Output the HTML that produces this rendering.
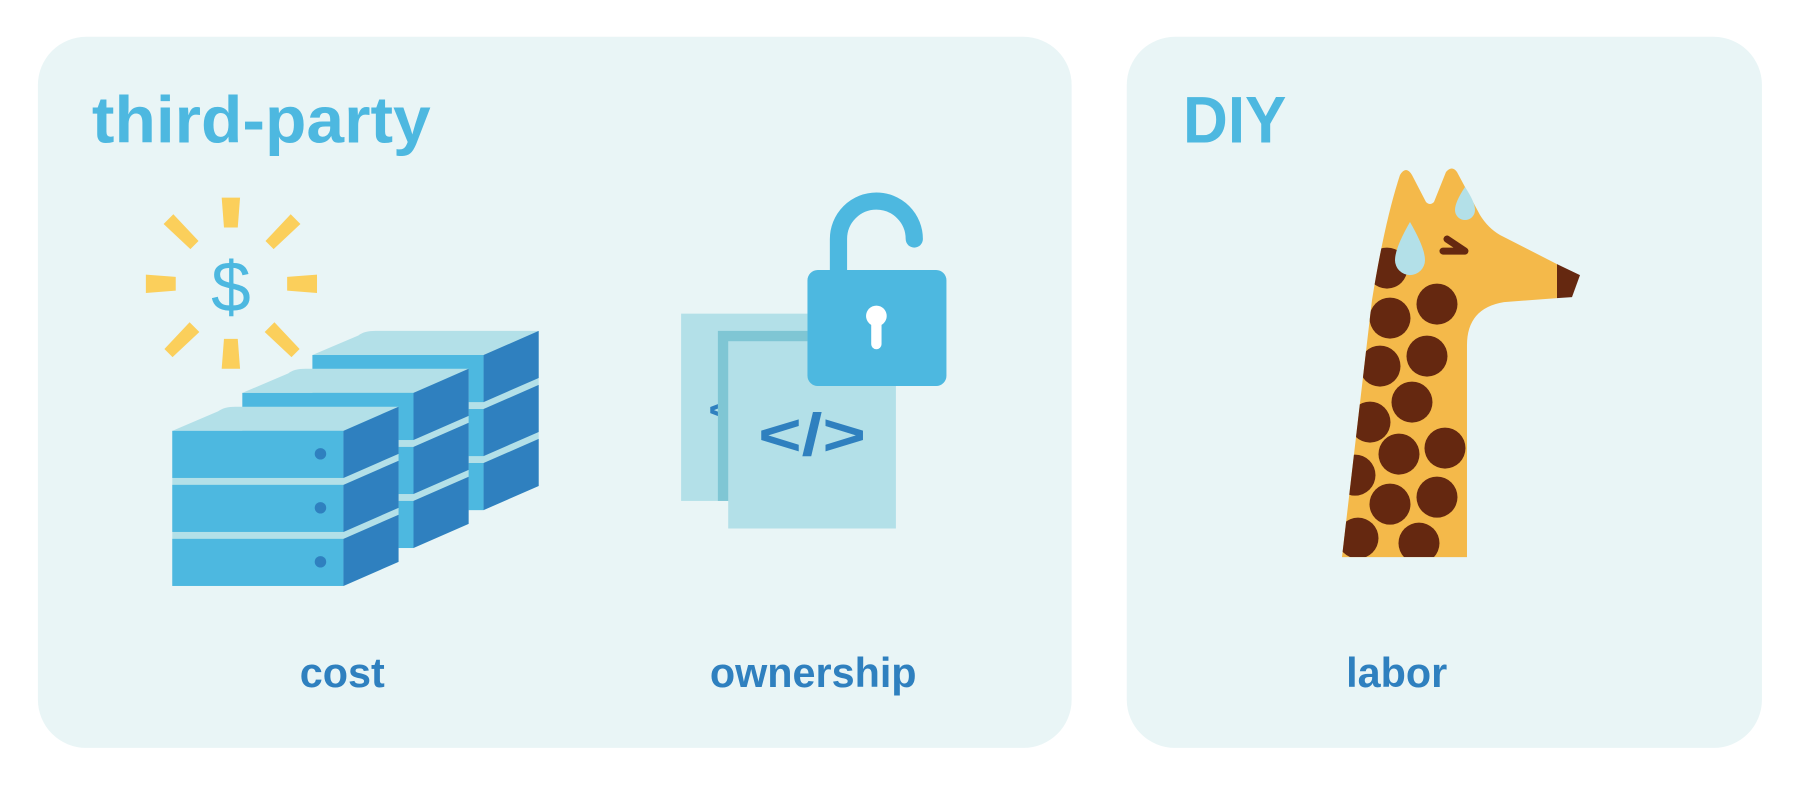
<!DOCTYPE html>
<html><head><meta charset="utf-8"><style>
html,body{margin:0;padding:0;background:#fff;}
svg{display:block;}
text{font-family:"Liberation Sans",sans-serif;font-weight:bold;}
</style></head><body>
<svg width="1801" height="787" viewBox="0 0 1568 685" preserveAspectRatio="none" xmlns="http://www.w3.org/2000/svg">
<defs>
<clipPath id="neck"><path d="M1342,557 L1372,300 Q1385,220 1400,175 Q1406,165 1412,175 L1426,202 Q1430,206 1434,202 L1446,172 Q1452,165 1457,172 L1480,215 Q1488,228 1500,235 L1557,264 L1557,298 L1504,302 Q1467,308 1467,345 L1467,557 Z"/></clipPath>
<g id="box">
<rect x="0" y="0" width="149" height="41" fill="#4db8e0"/>
<polygon points="149,0 197,-21 197,20 149,41" fill="#2f80bf"/>
</g>
<g id="stack">
<polygon points="0,0 149,0 197,-21 197,114 149,135 0,135" fill="#b3e0e8"/>
<path d="M0,0 L40,-17 Q45,-21 55,-21 L197,-21 L149,0 Z" fill="#b3e0e8"/>
<use href="#box" y="0"/><use href="#box" y="47"/><use href="#box" y="94"/>
</g>
</defs>
<rect x="33" y="32" width="900" height="619" rx="42" fill="#e9f5f6"/>
<rect x="981" y="32" width="553" height="619" rx="42" fill="#e9f5f6"/>
<text x="80" y="124" font-size="57" fill="#4db8e0" textLength="295" lengthAdjust="spacingAndGlyphs">third-party</text>
<text x="1030" y="124" font-size="57" fill="#4db8e0" textLength="90" lengthAdjust="spacingAndGlyphs">DIY</text>
<text x="298" y="598" font-size="36" fill="#2f80bf" text-anchor="middle">cost</text>
<text x="708" y="598" font-size="36" fill="#2f80bf" text-anchor="middle">ownership</text>
<text x="1216" y="598" font-size="36" fill="#2f80bf" text-anchor="middle">labor</text>
<!-- sparkle -->
<g fill="#fbcf5b">
<polygon points="193,172 209,172 207,198 195,198"/>
<polygon points="195,295 207,295 209,321 193,321"/>
<polygon points="127,239 153,241 153,253 127,255"/>
<polygon points="250,241 276,239 276,255 250,253"/>
<g transform="translate(158,202) rotate(-45)"><polygon points="-6,-16 6,-16 5,16 -5,16"/></g>
<g transform="translate(246,202) rotate(45)"><polygon points="-6,-16 6,-16 5,16 -5,16"/></g>
<g transform="translate(158,296) rotate(45)"><polygon points="-6,-16 6,-16 5,16 -5,16"/></g>
<g transform="translate(246,296) rotate(-45)"><polygon points="-6,-16 6,-16 5,16 -5,16"/></g>
</g>
<text x="201" y="271" font-size="62" fill="#4db8e0" text-anchor="middle" style="font-weight:normal">$</text>
<!-- servers -->
<use href="#stack" x="272" y="309"/>
<use href="#stack" x="211" y="342"/>
<use href="#stack" x="150" y="375"/>
<g fill="#2f80bf"><circle cx="279" cy="395" r="5"/><circle cx="279" cy="442" r="5"/><circle cx="279" cy="489" r="5"/></g>
<!-- code/lock -->
<rect x="593" y="273" width="110" height="163" fill="#b3e0e8"/>
<text x="617" y="368" font-size="34" fill="#2f80bf">&lt;</text>
<rect x="625" y="288" width="78" height="148" fill="#7fc6d4"/>
<rect x="634" y="297" width="146" height="163" fill="#b3e0e8"/>
<text x="707" y="396" font-size="52" fill="#2f80bf" text-anchor="middle" textLength="94" lengthAdjust="spacingAndGlyphs">&lt;/&gt;</text>
<path d="M730,236 L730,208 A33,33 0 0 1 796,208" fill="none" stroke="#4db8e0" stroke-width="15" stroke-linecap="round"/>
<rect x="703" y="235" width="121" height="101" rx="9" fill="#4db8e0"/>
<circle cx="763" cy="275" r="9" fill="#fff"/>
<rect x="758.5" y="278" width="9" height="26" rx="4.5" fill="#fff"/>
<!-- giraffe (real coords) -->
<g transform="scale(0.87062)">
<path d="M1342,557 L1372,300 Q1385,220 1400,175 Q1406,165 1412,175 L1426,202 Q1430,206 1434,202 L1446,172 Q1452,165 1457,172 L1480,215 Q1488,228 1500,235 L1557,264 L1557,298 L1504,302 Q1467,308 1467,345 L1467,557 Z" fill="#f4b94a"/>
<g clip-path="url(#neck)" fill="#652810">
<circle cx="1387" cy="268" r="20.5"/><circle cx="1437" cy="304" r="20.5"/><circle cx="1390" cy="318" r="20.5"/>
<circle cx="1427" cy="356" r="20.5"/><circle cx="1380" cy="366" r="20.5"/><circle cx="1412" cy="402" r="20.5"/>
<circle cx="1370" cy="422" r="20.5"/><circle cx="1399" cy="454" r="20.5"/><circle cx="1445" cy="448" r="20.5"/>
<circle cx="1355" cy="475" r="20.5"/><circle cx="1390" cy="504" r="20.5"/><circle cx="1437" cy="497" r="20.5"/>
<circle cx="1358" cy="538" r="20.5"/><circle cx="1419" cy="543" r="20.5"/>
</g>
<polygon points="1557,264 1580,275 1572,297 1557,298" fill="#652810"/>
<polyline points="1447,239 1465,251 1443,251" fill="none" stroke="#652810" stroke-width="7" stroke-linecap="round" stroke-linejoin="round"/>
<path d="M1410,222 Q1395,248 1395,260 A15,15 0 0 0 1425,260 Q1425,248 1410,222Z" fill="#b3e0e8"/>
<path d="M1465,187 Q1455,202 1455,210 A10,10 0 0 0 1475,210 Q1475,202 1465,187Z" fill="#b3e0e8"/>
</g>
</svg>
</body></html>
